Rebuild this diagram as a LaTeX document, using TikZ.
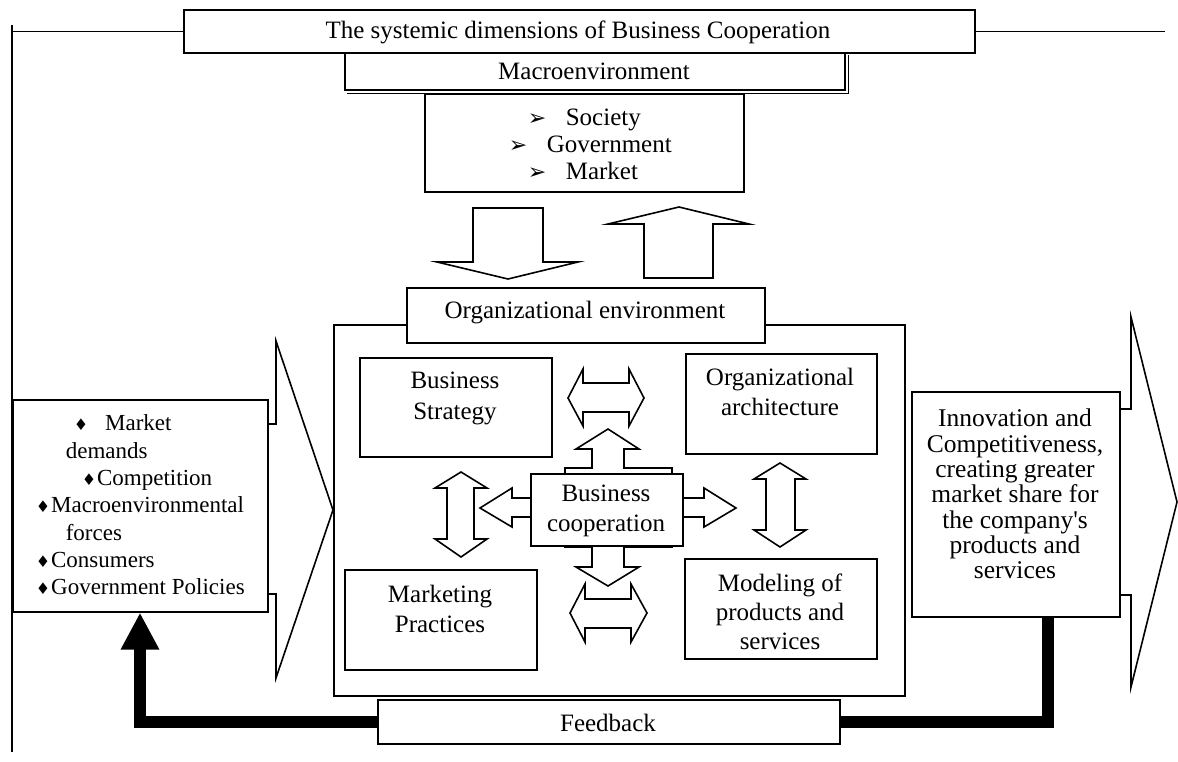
\documentclass[tikz,border=0pt]{standalone}
\usepackage{fontspec}
\setmainfont{Liberation Serif}
\newfontfamily\dvfont{DejaVu Sans}
\usetikzlibrary{arrows.meta}
\newcommand\dmd{{\dvfont\fontsize{16}{16}\selectfont ♦}}
\newcommand\arw{\makebox[38pt][l]{\dvfont\fontsize{22}{22}\selectfont ➢}}
\begin{document}
\begin{tikzpicture}[x=1pt,y=-1pt,line width=1.6pt,
  box/.style={draw,fill=white,inner sep=0pt,anchor=north west},
  txt/.style={inner sep=0pt,align=center,font=\fontsize{25}{29.5}\selectfont},
  blk/.style={draw,fill=white,line join=miter},
  fbbar/.style={line width=12pt}]
\useasboundingbox (0,0) rectangle (1178,761);
\fill[white] (0,0) rectangle (1178,761);

% frame line ends
\coordinate (ltop) at (12,25);
\coordinate (lbot) at (12,752);
\coordinate (rend) at (1165,30);

% macroenvironment (double edge right/bottom)
\node[box,minimum width=500pt,minimum height=37pt] (macro) at (344,52) {};
\draw ([xshift=2.7pt,yshift=-3pt]macro.north east) -- ([xshift=2.7pt,yshift=-2.7pt]macro.south east) -- ([xshift=3pt,yshift=-2.7pt]macro.south west);

% title
\node[box,minimum width=791pt,minimum height=43pt] (title) at (183,9) {};
\draw (ltop) -- (lbot);
\draw (title.west) -- (title.west -| ltop);
\draw (title.east) -- (title.east -| rend);
\node[txt] (titlet) at (578,32) {The systemic dimensions of Business Cooperation};
\node[txt] (macrot) at (594,71) {Macroenvironment};

% society box
\node[box,minimum width=319pt,minimum height=98pt] (soc) at (424,93) {};
\node[inner sep=0pt,align=left,anchor=west,font=\fontsize{25}{27}\selectfont] (soct) at (508,144)
  {\hspace*{19pt}\arw Society\\\arw Government\\\hspace*{19pt}\arw Market};

% down / up block arrows
\draw[blk] (473,208) -- (543,208) -- (543,262) -- (578,262) -- (508,279) -- (437,262) -- (473,262) -- cycle;
\draw[blk] (644,278) -- (713,278) -- (713,224) -- (749,224) -- (679,207) -- (608,224) -- (644,224) -- cycle;

% organizational environment
\node[box,minimum width=571pt,minimum height=371pt] (org) at (333,324) {};
\node[box,minimum width=358pt,minimum height=55pt] (orgl) at (406,287) {};
\node[txt] (orglt) at (585,313) {Organizational environment};

% left big arrow and forces box
\draw[line join=miter] (267,424) -- (276,424) -- (276,341) -- (333,510) -- (276,678) -- (276,594) -- (267,594);
\node[box,minimum width=255pt,minimum height=212pt] (forces) at (12,399) {};
\node[inner sep=0pt,align=left,anchor=west,font=\fontsize{23}{27.3}\selectfont] (forcest) at (35,505)
  {\hspace*{38pt}\dmd\hspace{17pt}Market\\
   \hspace*{30pt}demands\\
   \hspace*{46pt}\dmd\hspace{1pt}Competition\\
   \dmd\hspace{1pt}Macroenvironmental\\
   \hspace*{30pt}forces\\
   \dmd\hspace{1pt}Consumers\\
   \dmd\hspace{1pt}Government Policies};

% right big arrow and innovation box
\draw[line join=miter] (1119,409) -- (1131,409) -- (1131,317) -- (1177,502) -- (1131,687) -- (1131,595) -- (1119,595);
\node[box,minimum width=208pt,minimum height=225pt] (inno) at (911,391) {};
\node[txt,font=\fontsize{25.5}{25.3}\selectfont] (innot) at (1015,494)
  {Innovation and\\Competitiveness,\\creating greater\\market share for\\the company\textquotesingle s\\products and\\services};

% inner boxes
\node[box,minimum width=192pt,minimum height=99pt] (bs) at (359,357) {};
\node[txt,font=\fontsize{25}{31}\selectfont] (bst) at (455,398) {Business\\Strategy};
\node[box,minimum width=191pt,minimum height=100pt] (oa) at (685,353) {};
\node[txt] (oat) at (780,392) {Organizational\\architecture};
\node[box,minimum width=192pt,minimum height=100pt] (mp) at (344,569) {};
\node[txt] (mpt) at (440,609) {Marketing\\Practices};
\node[box,minimum width=192pt,minimum height=100pt] (mop) at (684,558) {};
\node[txt,font=\fontsize{25}{29}\selectfont] (mopt) at (780,612) {Modeling of\\products and\\services};

% double arrows
\draw[blk] (568,398) -- (583,369) -- (583,383) -- (629,383) -- (629,369) -- (644,398) -- (629,426) -- (629,412) -- (583,412) -- (583,426) -- cycle;
\draw[blk] (570,613) -- (585,584) -- (585,599) -- (631,599) -- (631,584) -- (647,613) -- (631,642) -- (631,628) -- (585,628) -- (585,642) -- cycle;
\draw[blk] (461,472) -- (487,488) -- (474,488) -- (474,539) -- (487,539) -- (461,557) -- (435,539) -- (447,539) -- (447,488) -- (435,488) -- cycle;
\draw[blk] (780,463) -- (806,479) -- (795,479) -- (795,530) -- (806,530) -- (780,547) -- (754,530) -- (766,530) -- (766,479) -- (754,479) -- cycle;

% quad arrow callout
\draw[blk] (565,468) -- (592,468) -- (592,449) -- (576,449) -- (608,429) -- (639,449) -- (624,449) -- (624,468)
  -- (672,468) -- (672,498) -- (704,498) -- (704,488) -- (736,508) -- (704,527) -- (704,517) -- (672,517)
  -- (672,547) -- (624,547) -- (624,567) -- (639,567) -- (608,586) -- (576,567) -- (592,567) -- (592,547)
  -- (565,547) -- (565,517) -- (512,517) -- (512,527) -- (480,508) -- (512,488) -- (512,498) -- (565,498) -- cycle;
\node[box,minimum width=152pt,minimum height=72pt] (bc) at (530,473) {};
\node[txt] (bct) at (606,511) {Business\\cooperation};

% feedback
\node[box,minimum width=462pt,minimum height=44pt] (fb) at (377,699) {};
\node[txt] (fbt) at (608,723) {Feedback};
\draw[fbbar] ([xshift=32pt]inno.south) |- (fb.east);
\draw[fbbar,-{Triangle[width=36pt,length=37pt]}] (fb.west) -| ([xshift=128pt]forces.south west);
\end{tikzpicture}
\end{document}
